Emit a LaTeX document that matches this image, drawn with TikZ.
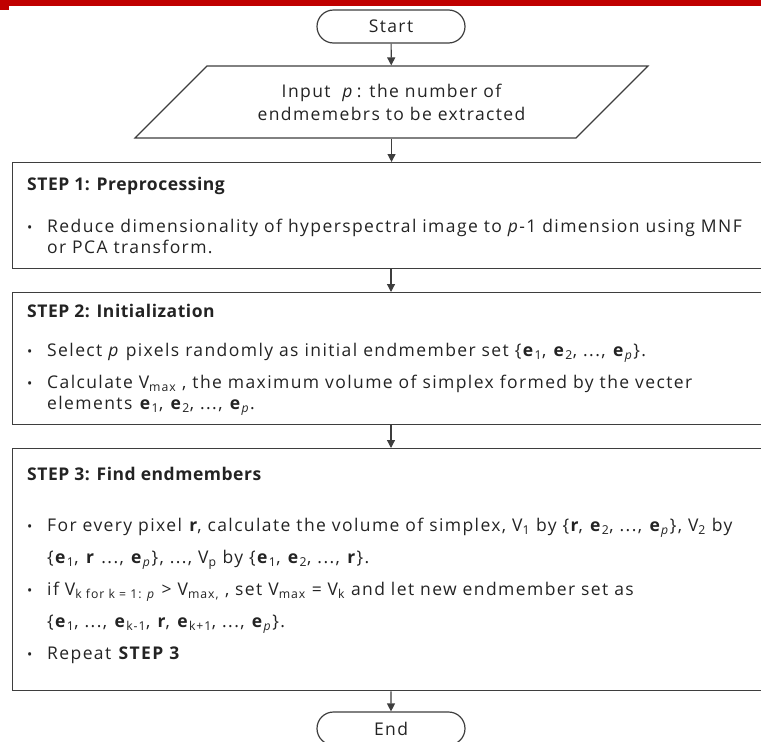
\documentclass[tikz,border=0pt]{standalone}
\usepackage{fontspec}
\setmainfont{Open Sans}[LetterSpace=8]
\usetikzlibrary{arrows.meta,shapes.geometric,shapes.misc}
\definecolor{barRed}{RGB}{192,0,0}
\definecolor{lineGray}{RGB}{62,62,62}
\definecolor{textGray}{RGB}{35,35,35}

\newcommand{\bul}{\makebox[20pt][l]{\fontsize{14}{14}\selectfont\textbullet}}
\newcommand{\cont}{\hspace*{20pt}}
\newcommand{\ev}[1]{\textbf{e}\textsubscript{#1}}
\newcommand{\steptitle}[1]{{\addfontfeatures{LetterSpace=3}\bfseries #1}}

\begin{document}
\begin{tikzpicture}[x=1pt,y=-1pt,
  every node/.style={text=textGray,font=\fontsize{17.5}{21}\selectfont},
  terminal/.style={rounded rectangle,draw=lineGray,line width=1.2pt,minimum width=148pt,minimum height=33pt,inner sep=0pt},
  inbox/.style={trapezium,trapezium left angle=35,trapezium right angle=145,trapezium stretches=true,draw=lineGray,line width=1.2pt,minimum width=513pt,minimum height=72pt,align=center,inner sep=0pt,font=\fontsize{17.5}{23}\selectfont},
  stepbox/.style={draw=lineGray,line width=1.4pt,minimum width=752pt,inner sep=0pt,anchor=north west},
  steptext/.style={anchor=north west,align=left,inner sep=0pt},
  flow/.style={-{Triangle[width=8pt,length=8pt]},draw=lineGray,line width=1.2pt}]
\useasboundingbox (0,0) rectangle (761,742);
% top bar
\fill[barRed] (0,0) rectangle (761,6);
\fill[barRed] (0,0) rectangle (9,10);

\node[terminal] (start) at (391,26.5) {Start};
\node[inbox] (input) at (391.5,102) {Input\ \ \textit{p}\,: the number of\\endmemebrs to be extracted};

% step 1
\node[stepbox,minimum height=106pt] (step1) at (11.5,162) {};
\node[steptext] (step1txt) at (27,177) {\steptitle{STEP 1: Preprocessing}\\[21pt]
\bul Reduce dimensionality of hyperspectral image to \textit{p}-1 dimension using MNF\\
\cont or PCA transform.};

% step 2
\node[stepbox,minimum height=132pt] (step2) at (11.5,292) {};
\node[steptext] (step2txt) at (27,304) {\steptitle{STEP 2: Initialization}\\[18pt]
\bul Select \textit{p} pixels randomly as initial endmember set \{\ev{1}, \ev{2}, ..., \ev{\textit{p}}\}.\\[11pt]
\bul Calculate V\textsubscript{max} , the maximum volume of simplex formed by the vecter\\
\cont elements \ev{1}, \ev{2}, ..., \ev{\textit{p}}.};

% step 3
\node[stepbox,minimum height=242pt] (step3) at (11.5,448) {};
\node[steptext] (step3txt) at (27,467) {\steptitle{STEP 3: Find endmembers}\\[30pt]
\bul For every pixel \textbf{r}, calculate the volume of simplex, V\textsubscript{1} by \{\textbf{r}, \ev{2}, ..., \ev{\textit{p}}\}, V\textsubscript{2} by\\[11pt]
\cont \{\ev{1}, \textbf{r} ..., \ev{\textit{p}}\}, ..., V\textsubscript{p} by \{\ev{1}, \ev{2}, ..., \textbf{r}\}.\\[11pt]
\bul if V\textsubscript{k for k = 1: \textit{p}} > V\textsubscript{max,} , set V\textsubscript{max} = V\textsubscript{k} and let new endmember set as\\[11pt]
\cont \{\ev{1}, ..., \ev{k-1}, \textbf{r}, \ev{k+1}, ..., \ev{\textit{p}}\}.\\[11pt]
\bul Repeat \textbf{STEP 3}};

\node[terminal] (stop) at (391,728.5) {End};

\draw[flow] (start) -- (input);
\draw[flow] (input.south) -- (input.south |- step1.north);
\draw[flow] (start |- step1.south) -- (start |- step2.north);
\draw[flow] (start |- step2.south) -- (start |- step3.north);
\draw[flow] (start |- step3.south) -- (stop);
\end{tikzpicture}
\end{document}
